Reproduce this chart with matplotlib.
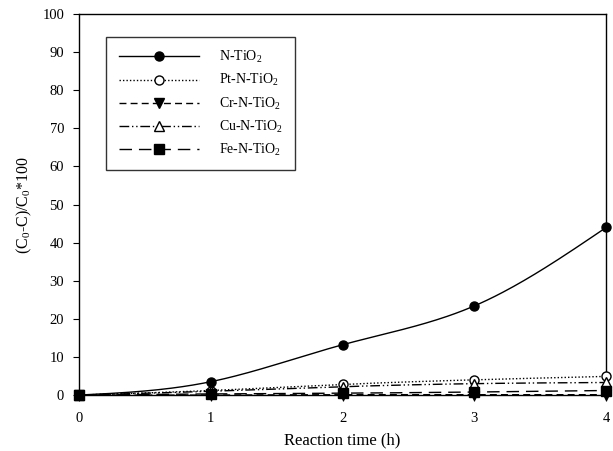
import numpy as np
import matplotlib
matplotlib.use("Agg")
import matplotlib.pyplot as plt
from matplotlib.lines import Line2D

plt.rcParams['font.family'] = ['Liberation Serif', 'DejaVu Serif']
plt.rcParams['mathtext.fontset'] = 'custom'
plt.rcParams['mathtext.rm'] = 'Liberation Serif'
plt.rcParams['mathtext.it'] = 'Liberation Serif'

time_h = [0, 1, 2, 3, 4]
n_tio2 = [0.0, 3.5, 13.2, 23.4, 44.0]
pt_n_tio2 = [0.0, 1.2, 2.8, 4.0, 4.9]
cr_n_tio2 = [0.0, 0.0, 0.1, 0.1, 0.1]
cu_n_tio2 = [0.0, 1.0, 2.2, 3.0, 3.3]
fe_n_tio2 = [0.0, 0.3, 0.5, 0.8, 1.2]
labels = ['N-TiO$_2$', 'Pt-N-TiO$_2$', 'Cr-N-TiO$_2$', 'Cu-N-TiO$_2$', 'Fe-N-TiO$_2$']


def spline(x, y, n=200):
    x = np.asarray(x, float); y = np.asarray(y, float)
    m = len(x)
    h = np.diff(x)
    A = np.zeros((m, m)); b = np.zeros(m)
    A[0, 0] = A[-1, -1] = 1
    for i in range(1, m - 1):
        A[i, i - 1] = h[i - 1]; A[i, i] = 2 * (h[i - 1] + h[i]); A[i, i + 1] = h[i]
        b[i] = 3 * ((y[i + 1] - y[i]) / h[i] - (y[i] - y[i - 1]) / h[i - 1])
    c = np.linalg.solve(A, b)
    xs = np.linspace(x[0], x[-1], n)
    ys = np.empty_like(xs)
    for k, xv in enumerate(xs):
        i = min(np.searchsorted(x, xv, side='right') - 1, m - 2)
        dx = xv - x[i]
        bb = (y[i + 1] - y[i]) / h[i] - h[i] * (2 * c[i] + c[i + 1]) / 3
        d = (c[i + 1] - c[i]) / (3 * h[i])
        ys[k] = y[i] + bb * dx + c[i] * dx ** 2 + d * dx ** 3
    return xs, ys


fig = plt.figure(figsize=(6.13, 4.51), dpi=100)
ax = fig.add_axes([0.1285, 0.124, 0.8605, 0.845])

series = [
    (n_tio2, '-', 'o', 'black'),
    (pt_n_tio2, (0, (1, 1.5)), 'o', 'white'),
    (cr_n_tio2, (0, (5, 3)), 'v', 'black'),
    (cu_n_tio2, (0, (7, 2, 1, 2, 1, 2)), '^', 'white'),
    (fe_n_tio2, (0, (9, 5)), 's', 'black'),
]
handles = []
for (vals, ls, mk, fc), lab in zip(series, labels):
    xs, ys = spline(time_h, vals)
    ax.plot(xs, ys, color='black', linestyle=ls, linewidth=1.0, clip_on=False)
    ax.plot(time_h, vals, linestyle='none', marker=mk, markersize=6.5,
            markerfacecolor=fc, markeredgecolor='black', markeredgewidth=1.0, clip_on=False, zorder=3)
    handles.append(Line2D([0], [0], color='black', linestyle=ls, linewidth=1.0, marker=mk,
                          markersize=6.5, markerfacecolor=fc, markeredgecolor='black'))

ax.set_xlim(0, 4)
ax.set_ylim(0, 100)
ax.set_xticks([0, 1, 2, 3, 4])
ax.set_yticks(range(0, 101, 10))
ax.tick_params(direction='out', length=4.5, labelsize=10.5, top=False, right=False)
ax.tick_params(axis='x', pad=8)
ax.tick_params(axis='y', pad=6)
ax.set_xlabel('Reaction time (h)', fontsize=12, labelpad=5)
ax.set_ylabel('(C$_0$-C)/C$_0$*100', fontsize=11.5, labelpad=6)
for s in ax.spines.values():
    s.set_linewidth(1.0)

leg = ax.legend(handles, labels, loc='upper left', bbox_to_anchor=(0.052, 0.94),
                frameon=True, fancybox=False, edgecolor='black', fontsize=10,
                handlelength=5.8, handletextpad=1.4, borderpad=0.9, labelspacing=0.5,
                borderaxespad=0)
leg.get_frame().set_linewidth(1.0)

fig.savefig('out.png', dpi=100)
